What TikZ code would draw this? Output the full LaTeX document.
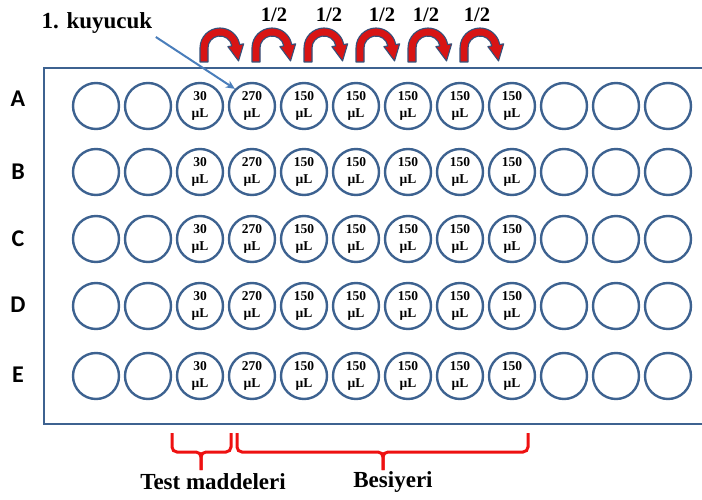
\documentclass[tikz,border=0pt]{standalone}
\usepackage{fontspec}
\setmainfont{Liberation Serif}
\newfontfamily\rowfont{Carlito}
\usetikzlibrary{arrows.meta}
\definecolor{wellblue}{HTML}{3D6290}
\definecolor{pointblue}{HTML}{4A7EBB}
\definecolor{bracered}{HTML}{EE1111}
\definecolor{arcred}{HTML}{D81414}
\definecolor{arcline}{HTML}{34507A}
\begin{document}
\begin{tikzpicture}[x=1pt,y=1pt,
  plate/.style={draw=wellblue,line width=2.5pt},
  well/.style={circle,draw=wellblue,line width=2.4pt,minimum size=46pt,inner sep=0pt,
    align=center,font=\fontsize{13.5}{17.5}\selectfont\bfseries},
  rowlab/.style={font=\rowfont\fontsize{24}{28}\selectfont\bfseries},
  lbl/.style={font=\fontsize{23}{27}\selectfont\bfseries},
  half/.style={font=\fontsize{20.5}{24}\selectfont\bfseries},
  curv/.style={fill=arcred,draw=arcline,line width=1.1pt,line join=round},
  pointer/.style={draw=pointblue,line width=2pt,-{Stealth[length=9pt,width=8pt]}},
  bracestyle/.style={draw=bracered,line width=3pt,rounded corners=5pt}]
\useasboundingbox (0,0) rectangle (702,499);
% plate
\draw[plate] (712,431) -- (44,431) -- (44,75) -- (712,75);
% wells
\foreach \r/\y/\ly in {A/393/400,B/327/327,C/260/260,D/193/194,E/123/124}{
  \node[rowlab] (lab\r) at (18,\ly) {\r};
  \foreach \c/\t in {1/,2/,3/30\\µL,4/270\\µL,5/150\\µL,6/150\\µL,7/150\\µL,8/150\\µL,9/150\\µL,10/,11/,12/}{
    \node[well] (\r\c) at ({96+52*(\c-1)},\y) {\t};
  }
}
% curved transfer arrows
\foreach \k in {0,...,5}{
  \begin{scope}[shift={({220+52*\k},451)}]
    \filldraw[curv] (-20,-14) -- (-20,0) arc[start angle=180,end angle=10,radius=20]
      -- (10:24) -- (18.54,-12.98) -- (10:8) -- (10:12)
      arc[start angle=10,end angle=180,radius=12] -- (-12,-14) -- cycle;
  \end{scope}
}
% dilution labels
\foreach \x [count=\i] in {274,329,382,426,477}{
  \node[half] (h\i) at (\x,484) {1/2};
}
% first well label
\node[lbl] (kuy) at (97,476) {1. kuyucuk};
\draw[pointer] (kuy.south east) -- (A4.north west);
% braces
\draw[bracestyle] (172,66) |- (201,47) -- (201,29);
\draw[bracestyle] (231,66) |- (201,47) -- (201,29);
\draw[bracestyle] (237,66) |- (383,47) -- (383,29);
\draw[bracestyle] (528,66) |- (383,47) -- (383,29);
\node[lbl] (tm) at (213,17) {Test maddeleri};
\node[lbl] (bs) at (393,17) {Besiyeri};
\end{tikzpicture}
\end{document}
